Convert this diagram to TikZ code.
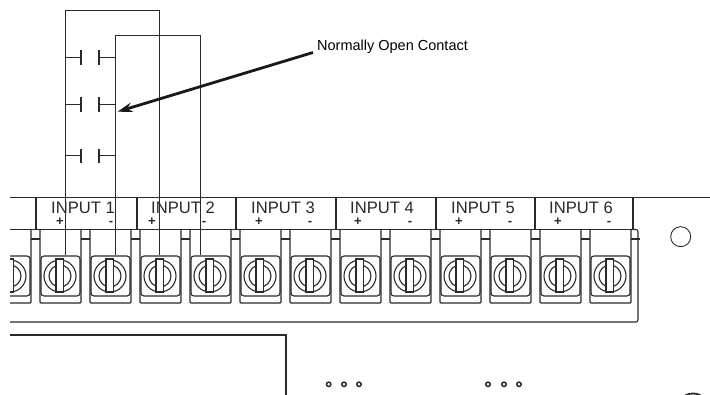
\documentclass[tikz,border=0pt]{standalone}
\usepackage{fontspec}
\setmainfont{Liberation Sans}
\usetikzlibrary{arrows.meta}
\definecolor{ink}{HTML}{2A2A2A}
\tikzset{
  line/.style={draw=ink,line width=1.1pt},
  wire/.style={draw=ink,line width=1pt},
  screwbox/.style={draw=ink,line width=1.1pt,rounded corners=3pt,minimum width=39pt,minimum height=40pt,inner sep=0pt},
  inlabel/.style={font=\fontsize{16.6}{18}\selectfont,text=ink,inner sep=0pt},
  pol/.style={font=\bfseries\fontsize{13}{14}\selectfont,text=ink,inner sep=0pt},
  notelabel/.style={font=\fontsize{14.5}{16}\selectfont,text=black,inner sep=0pt,anchor=west},
  dot/.style={circle,draw=ink,line width=1.5pt,minimum size=4.4pt,inner sep=0pt}
}
\begin{document}
\begin{tikzpicture}[x=1pt,y=-1pt]
\useasboundingbox (0,0) rectangle (710,395);
\fill[white] (0,0) rectangle (710,395);
\begin{scope}
\clip (10,0) rectangle (710,395);
% panel lines
\draw[line] (10,197.5) -- (710,197.5);
\draw[line] (10,229.5) -- (633,229.5);
\foreach \x in {36,137,236,336,436,535,633} \draw[line] (\x,197.5) -- (\x,229.5);
\draw[line,rounded corners=2pt] (631,229.5) -- (638,229.5) -- (638,322) -- (10,322);
% terminal blocks
\foreach \i/\x in {0/-10,1/40,2/90,3/140,4/190,5/240,6/290,7/340,8/390,9/440,10/490,11/540,12/590}{
  \draw[line,rounded corners=1pt,line width=1.3pt] (\x,229.5) -- (\x,303) -- (\x+41,303) -- (\x+41,229.5);
  \draw[line] (\x+41,239) -- (\x+50,239);
  \node[screwbox] (s\i) at (\x+20.5,276) {};
  \draw[line] (\x+20,276) circle (16);
  \draw[line] (\x+20,276) circle (11);
  \fill[white] (\x+16,259) rectangle (\x+23.3,292);
  \draw[line] (\x+16,259) rectangle (\x+23.3,292);
}
\draw[line] (31,239) -- (40,239);
% lower parts
\draw[line] (10,335) -- (286,335) -- (286,395);
\foreach \n/\x in {a/328.7,b/344,c/359,d/488,e/504,f/519} \node[dot] (\n) at (\x,384.3) {};
\draw[draw=ink,line width=1.8pt] (693,409) circle (15.5);
\end{scope}
\node[circle,draw=ink,line width=0.9pt,minimum size=20pt,inner sep=0pt] (hole) at (680.7,236.7) {};
% labels
\foreach \n/\x/\p/\m in {1/83/60/111,2/183/152/204,3/283/259/310,4/382/358/410,5/483/459/510,6/581/558/609}{
  \node[inlabel] (in\n) at (\x,208.2) {INPUT \n};
  \node[pol] (pl\n) at (\p,221.8) {+};
  \node[pol] (mi\n) at (\m,223) {-};
}
% wires
\coordinate (tl) at (65.7,10.7);
\coordinate (tr) at (159,10.7);
\coordinate (ul) at (115.7,35.7);
\coordinate (ur) at (200,35.7);
\draw[wire] ([xshift=5.2pt]s1.north) -- (tl) -- (tr) -- ([xshift=-1.5pt]s3.north);
\draw[wire] ([xshift=5.2pt]s2.north) -- (ul) -- (ur) -- ([xshift=-10.5pt]s4.north);
% contacts
\foreach \n/\y in {a/57.7,b/104.7,c/156}{
  \coordinate (la\n) at (65.7,\y);
  \coordinate (lb\n) at (81,\y);
  \coordinate (ra\n) at (99,\y);
  \coordinate (rb\n) at (115.7,\y);
  \draw[wire] (la\n) -- (lb\n);
  \draw[wire] (ra\n) -- (rb\n);
  \draw[wire,line width=1.2pt] ([yshift=-7.3pt]lb\n) -- ([yshift=7.3pt]lb\n);
  \draw[wire,line width=1.2pt] ([yshift=-7.3pt]ra\n) -- ([yshift=7.3pt]ra\n);
}
% note
\node[notelabel] (note) at (317,46.5) {Normally Open Contact};
\coordinate (tip) at (117.5,111.7);
\draw[draw=black!90,line width=2.8pt,-{Stealth[length=15pt,width=9.5pt]}] ([shift={(-4,6)}]note.west) -- (tip);
\end{tikzpicture}
\end{document}
